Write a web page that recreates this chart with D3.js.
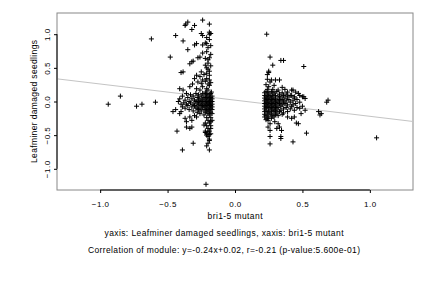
<!DOCTYPE html>
<meta charset="utf-8">
<style>
 body { margin: 0; background: #fff; }
 text { font-family: "Liberation Sans", Arial, sans-serif; font-size: 8px; fill: #000; }
 .title { font-size: 8.5px; }
</style>
<body>
<svg width="432" height="288"></svg>
<script src="https://d3js.org/d3.v7.min.js"></script>
<script>

// sparse points, [x, y]
var leftScatter = [
 [-0.94,-0.04],[-0.85,0.08],[-0.73,-0.07],[-0.69,-0.04],[-0.59,-0.01],[-0.62,0.93],[-0.48,0.66],
 [-0.44,0.98],[-0.385,0.90],[-0.37,1.13],[-0.365,1.15],[-0.35,1.18],[-0.30,1.13],[-0.32,1.07],
 [-0.24,1.21],[-0.19,1.15],[-0.25,1.01],[-0.24,0.98],[-0.19,1.03],[-0.18,1.01],[-0.19,1.0],
 [-0.22,0.87],[-0.24,0.84],[-0.21,0.86],[-0.30,0.84],[-0.285,0.86],[-0.35,0.77],[-0.21,0.74],
 [-0.24,0.72],[-0.26,0.66],[-0.275,0.65],[-0.19,0.65],[-0.20,0.62],[-0.22,0.64],[-0.32,0.59],
 [-0.335,0.56],[-0.31,0.60],[-0.22,0.54],[-0.21,0.50],[-0.20,0.48],[-0.385,0.44],[-0.40,0.43],
 [-0.25,0.44],[-0.285,0.39],[-0.26,0.37],[-0.30,0.34],[-0.21,0.42],[-0.19,0.39],[-0.21,0.34],
 [-0.19,0.32],[-0.275,0.29],[-0.25,0.27],[-0.24,0.32],[-0.315,0.26],[-0.335,0.22],[-0.41,0.19],
 [-0.385,0.17],[-0.285,0.19],[-0.26,0.17],[-0.24,0.22],[-0.21,0.19],[-0.19,0.24],[-0.20,0.17],
 [-0.22,0.14],[-0.175,0.14],[-0.20,0.80],[-0.18,0.83],[-0.19,0.92],[-0.21,0.95],[-0.18,0.70],
 [-0.20,0.57],[-0.18,0.53],[-0.19,0.45],[-0.23,0.40],[-0.18,0.28],[-0.22,0.30],[-0.20,0.26],
 [-0.46,-0.15],[-0.44,-0.12],[-0.41,-0.18],[-0.40,-0.15],[-0.37,-0.25],[-0.36,-0.30],[-0.335,-0.23],
 [-0.32,-0.28],[-0.30,-0.21],[-0.285,-0.23],[-0.36,-0.38],[-0.335,-0.40],[-0.32,-0.38],[-0.43,-0.44],
 [-0.31,-0.62],[-0.20,-0.62],[-0.39,-0.72],[-0.19,-0.72],[-0.215,-1.23],[-0.22,-0.46],[-0.20,-0.45],
 [-0.19,-0.49],[-0.21,-0.50],[-0.18,-0.40],[-0.23,-0.35],[-0.19,-0.58],[-0.21,-0.66],[-0.18,-0.30]
];

var rightScatter = [
 [0.235,1.0],[0.26,0.66],[0.34,0.61],[0.36,0.61],[0.28,0.54],[0.51,0.52],[0.25,0.43],[0.25,0.45],
 [0.24,0.33],[0.26,0.29],[0.30,0.32],[0.33,0.32],[0.27,0.32],[0.24,0.40],[0.24,0.18],[0.28,0.18],
 [0.32,0.17],[0.39,0.14],[0.42,0.17],[0.45,0.14],[0.43,0.17],[0.47,0.12],[0.48,0.09],[0.50,0.07],
 [0.42,0.09],[0.44,0.07],[0.52,0.045],[0.51,0.07],[0.68,-0.01],[0.69,0.02],[0.62,-0.15],[0.63,-0.20],
 [0.64,-0.18],[0.47,-0.33],[0.455,-0.32],[0.53,-0.47],[0.26,-0.52],[0.34,-0.52],[0.34,-0.55],
 [0.43,-0.60],[0.26,-0.63],[1.05,-0.54],[0.295,-0.30],[0.32,-0.33],[0.33,-0.38],[0.31,-0.40],
 [0.345,-0.43],[0.245,-0.28],[0.26,-0.33],[0.245,-0.38],[0.26,-0.43],[0.42,-0.25],[0.44,-0.23],
 [0.39,-0.23],[0.49,-0.18],[0.52,-0.13],[0.48,-0.10],[0.23,0.25],[0.25,0.22],[0.29,0.24],
 [0.35,0.21],[0.37,0.18]
];

// dense blobs, one row per y level: [y, [x values]]
var leftCore = [
 [0.12, [-0.36,-0.29,-0.24,-0.21,-0.18]],
 [0.10, [-0.33,-0.27,-0.22,-0.19]],
 [0.08, [-0.39,-0.31,-0.25,-0.20,-0.17]],
 [0.06, [-0.35,-0.28,-0.23,-0.21,-0.18]],
 [0.04, [-0.41,-0.32,-0.26,-0.22,-0.19,-0.17]],
 [0.02, [-0.37,-0.30,-0.27,-0.24,-0.20,-0.18]],
 [0.00, [-0.42,-0.34,-0.29,-0.25,-0.23,-0.21,-0.19,-0.17]],
 [-0.02, [-0.38,-0.33,-0.28,-0.26,-0.22,-0.20,-0.18]],
 [-0.04, [-0.40,-0.36,-0.31,-0.27,-0.24,-0.21,-0.19,-0.17]],
 [-0.06, [-0.35,-0.30,-0.25,-0.23,-0.20,-0.18]],
 [-0.08, [-0.39,-0.32,-0.28,-0.24,-0.22,-0.19,-0.17]],
 [-0.10, [-0.37,-0.29,-0.26,-0.21,-0.18]],
 [-0.12, [-0.34,-0.27,-0.23,-0.20,-0.17]],
 [-0.14, [-0.31,-0.25,-0.21,-0.19]],
 [-0.16, [-0.28,-0.22,-0.18]],
 [-0.18, [-0.26,-0.20,-0.17]],
 [-0.20, [-0.23,-0.19]],
 [-0.24, [-0.21,-0.18]],
 [-0.28, [-0.20,-0.17]],
 [-0.32, [-0.22,-0.19]],
 [-0.36, [-0.21,-0.18]],
 [-0.40, [-0.20]],
 [-0.44, [-0.22,-0.19]],
 [-0.48, [-0.21,-0.18]],
 [-0.52, [-0.20]],
 [-0.56, [-0.19]]
];

var rightCore = [
 [0.15, [0.23,0.27,0.31]],
 [0.13, [0.22,0.25,0.29,0.35]],
 [0.11, [0.24,0.28,0.33,0.38]],
 [0.09, [0.22,0.26,0.30,0.36,0.41]],
 [0.07, [0.23,0.25,0.28,0.32,0.34,0.39]],
 [0.05, [0.22,0.24,0.27,0.30,0.37,0.44]],
 [0.03, [0.23,0.26,0.29,0.33,0.35,0.40,0.46]],
 [0.01, [0.22,0.25,0.28,0.31,0.34,0.38,0.43]],
 [-0.01, [0.23,0.24,0.27,0.30,0.32,0.36,0.41,0.48]],
 [-0.03, [0.22,0.26,0.29,0.33,0.37,0.45]],
 [-0.05, [0.23,0.25,0.28,0.31,0.35,0.39,0.43]],
 [-0.07, [0.22,0.24,0.27,0.30,0.34,0.42,0.50]],
 [-0.09, [0.23,0.26,0.29,0.32,0.38,0.46]],
 [-0.11, [0.22,0.25,0.28,0.31,0.36,0.41]],
 [-0.13, [0.23,0.27,0.30,0.34,0.44]],
 [-0.15, [0.22,0.25,0.29,0.33,0.39]],
 [-0.17, [0.24,0.27,0.31,0.36]],
 [-0.19, [0.22,0.26,0.30,0.35]],
 [-0.21, [0.23,0.28,0.32]],
 [-0.23, [0.22,0.25,0.29]],
 [-0.25, [0.24,0.27]],
 [-0.27, [0.23]]
];

var ticks = [-1.0, -0.5, 0.0, 0.5, 1.0];
var fit = { slope: -0.24, intercept: 0.02 };
var xTitle = "bri1-5 mutant";
var yTitle = "Leafminer damaged seedlings";
var subtitle = "yaxis: Leafminer damaged seedlings, xaxis: bri1-5 mutant";
var corrText = "Correlation of module: y=-0.24x+0.02, r=-0.21 (p-value:5.600e-01)";

var points = leftScatter.concat(rightScatter);
leftCore.concat(rightCore).forEach(function(row) {
    row[1].forEach(function(x) { points.push([x, row[0]]); });
});

var svg = d3.select("svg");
var x = d3.scaleLinear().domain([-1.32, 1.32]).range([57, 413]);
var y = d3.scaleLinear().domain([-1.315, 1.315]).range([190, 13]);

// box
svg.append("rect")
    .attr("x", 57).attr("y", 13).attr("width", 356).attr("height", 177)
    .attr("fill", "none").attr("stroke", "#888").attr("stroke-width", 1);

// regression line
svg.append("line")
    .attr("x1", x(-1.32)).attr("y1", y(fit.slope * -1.32 + fit.intercept))
    .attr("x2", x(1.32)).attr("y2", y(fit.slope * 1.32 + fit.intercept))
    .attr("stroke", "#c4c4c4").attr("stroke-width", 1);

// points as plus signs
svg.append("g").selectAll("path")
    .data(points)
    .enter().append("path")
    .attr("transform", function(d) { return "translate(" + x(d[0]) + "," + y(d[1]) + ")"; })
    .attr("d", "M-2.5,0H2.5M0,-2.5V2.5")
    .attr("stroke", "#000").attr("stroke-width", 1).attr("fill", "none");

// x axis
var gx = svg.append("g").attr("transform", "translate(0,190)")
    .call(d3.axisBottom(x).tickValues(ticks).tickSize(3).tickPadding(8)
          .tickFormat(d3.format(".1f")));
gx.select(".domain").remove();
gx.selectAll("text").style("font-size", "8px").attr("letter-spacing", "0.5px")
    .attr("font-family", null);
svg.append("line").attr("x1", x(-1)).attr("x2", x(1)).attr("y1", 190).attr("y2", 190)
    .attr("stroke", "#000");

// y axis
var gy = svg.append("g").attr("transform", "translate(57,0)")
    .call(d3.axisLeft(y).tickValues(ticks).tickSize(3).tickFormat(d3.format(".1f")));
gy.select(".domain").remove();
gy.selectAll("text")
    .attr("x", null).attr("dy", null)
    .attr("transform", "translate(-7.5,0) rotate(-90)")
    .attr("text-anchor", "middle")
    .attr("letter-spacing", "0.5px");
svg.append("line").attr("x1", 57).attr("x2", 57).attr("y1", y(-1)).attr("y2", y(1))
    .attr("stroke", "#000");
svg.selectAll(".tick text").style("font-family", "'Liberation Sans', Arial, sans-serif");

// titles
svg.append("text").attr("class", "title").attr("x", 235).attr("y", 218.5)
    .attr("text-anchor", "middle").attr("textLength", 55).text(xTitle);
svg.append("text").attr("class", "title").attr("transform", "translate(36.5,101.5) rotate(-90)")
    .attr("text-anchor", "middle").attr("textLength", 123).text(yTitle);
svg.append("text").attr("class", "title").attr("x", 224).attr("y", 235.5)
    .attr("text-anchor", "middle").attr("textLength", 239).text(subtitle);
svg.append("text").attr("class", "title").attr("x", 224).attr("y", 252.5)
    .attr("text-anchor", "middle").attr("textLength", 272).text(corrText);

</script>
</body>
